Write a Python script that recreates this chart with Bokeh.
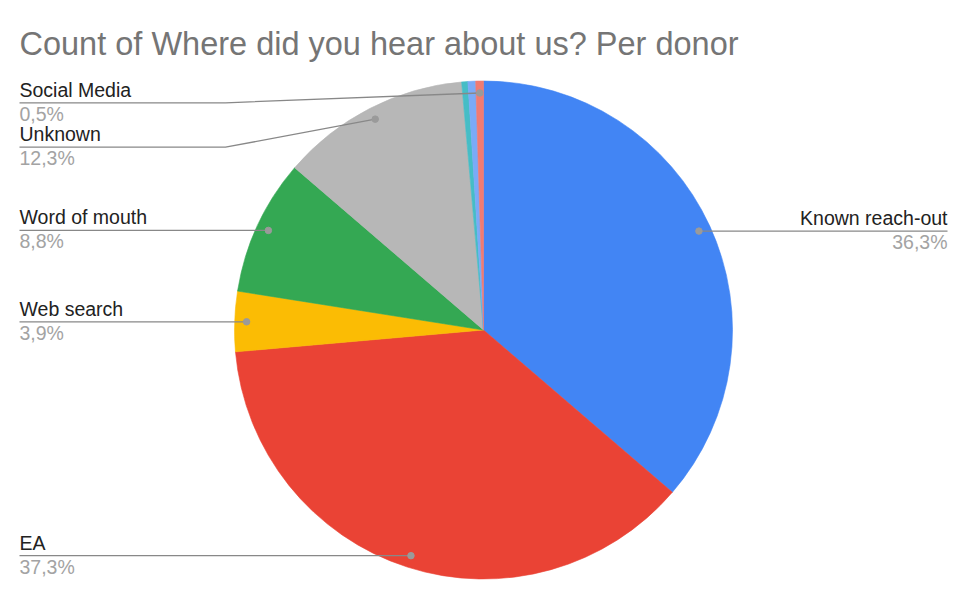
import math
from bokeh.plotting import figure
from bokeh.models import Range1d, ColumnDataSource
from bokeh.core.properties import value
from bokeh.embed import file_html
from bokeh.resources import INLINE

# ---------------- data ----------------
chart_title = "Count of Where did you hear about us? Per donor"
categories = ["Known reach-out", "EA", "Web search", "Word of mouth", "Unknown",
              "Other (a)", "Other (b)", "Social Media"]
shares = [36.3, 37.3, 3.9, 8.8, 12.3, 0.4, 0.5, 0.5]
labelled = [True, True, True, True, True, False, False, True]
colors = ["#4285F4", "#EA4335", "#FBBC04", "#34A853", "#B7B7B7",
          "#46BDC6", "#7BAAF7", "#F07B72"]

# ---------------- layout ----------------
W, H = 962, 583
CX, CY, R = 483.0, 329.5, 249.0          # picture-pixel coordinates (y down)
DOT_FRAC = 0.952
LEFT_X, RIGHT_X = 19.0, 947.0
BEND_X = 225.0
line_y_override = {"Social Media": 102.3, "Unknown": 146.7}
NAME_DY, VALUE_DY = -13.0, 11.0
TITLE_BASE = 43.5
FONT = "Liberation Sans"

def Y(y_img):
    return -y_img

p = figure(width=W, height=H, output_backend="svg", toolbar_location=None,
           x_range=Range1d(0, W), y_range=Range1d(-H, 0),
           min_border=0, background_fill_color="white", border_fill_color="white")
p.axis.visible = False
p.grid.visible = False
p.outline_line_color = None

total = sum(shares)
starts, ends, mids = [], [], []
cum = 0.0
for s in shares:
    a0 = cum / total
    cum += s
    a1 = cum / total
    starts.append(math.pi / 2 - 2 * math.pi * a0)
    ends.append(math.pi / 2 - 2 * math.pi * a1)
    mids.append(2 * math.pi * (a0 + a1) / 2)

src = ColumnDataSource(dict(start=starts, end=ends, color=colors, cat=categories))
p.wedge(x=CX, y=Y(CY), radius=R, start_angle="start", end_angle="end",
        direction="clock", fill_color="color", line_color="color", line_width=0.6,
        source=src)

xs_lines, ys_lines = [], []
dot_x, dot_y = [], []
name_x, name_y, name_t, name_align = [], [], [], []
val_x, val_y, val_t, val_align = [], [], [], []
for cat, s, show, th in zip(categories, shares, labelled, mids):
    if not show:
        continue
    dx = CX + DOT_FRAC * R * math.sin(th)
    dy = CY - DOT_FRAC * R * math.cos(th)
    dot_x.append(dx); dot_y.append(Y(dy))
    pct = f"{s:.1f}".replace(".", ",") + "%"
    if dx > CX:
        ly = dy
        xs_lines.append([dx, RIGHT_X]); ys_lines.append([Y(ly), Y(ly)])
        tx, al = RIGHT_X, "right"
    else:
        if cat in line_y_override:
            ly = line_y_override[cat]
            xs_lines.append([LEFT_X, BEND_X, dx]); ys_lines.append([Y(ly), Y(ly), Y(dy)])
        else:
            ly = dy
            xs_lines.append([LEFT_X, dx]); ys_lines.append([Y(ly), Y(ly)])
        tx, al = LEFT_X, "left"
    name_x.append(tx); name_y.append(Y(ly + NAME_DY)); name_t.append(cat); name_align.append(al)
    val_x.append(tx); val_y.append(Y(ly + VALUE_DY)); val_t.append(pct); val_align.append(al)

p.multi_line(xs=xs_lines, ys=ys_lines, line_color="#888888", line_width=1.3)
p.scatter(x=dot_x, y=dot_y, size=6.5, fill_color="#9a9a9a", line_color="#9a9a9a")

p.text(x="x", y="y", text="t", text_align="a",
       source=ColumnDataSource(dict(x=name_x, y=name_y, t=name_t, a=name_align)),
       text_font=value(FONT), text_font_size=value("19.5px"),
       text_color="#222222", text_baseline="alphabetic")
p.text(x="x", y="y", text="t", text_align="a",
       source=ColumnDataSource(dict(x=val_x, y=val_y, t=val_t, a=val_align)),
       text_font=value(FONT), text_font_size=value("19.5px"),
       text_color="#a3a3a3", text_baseline="alphabetic")

p.text(x=[19], y=[Y(TITLE_BASE)], text=[chart_title], text_font=value(FONT),
       text_font_size=value("32.5px"), text_color="#757575",
       text_baseline="alphabetic", text_align="left")

open("out.html", "w").write(file_html(p, INLINE))
